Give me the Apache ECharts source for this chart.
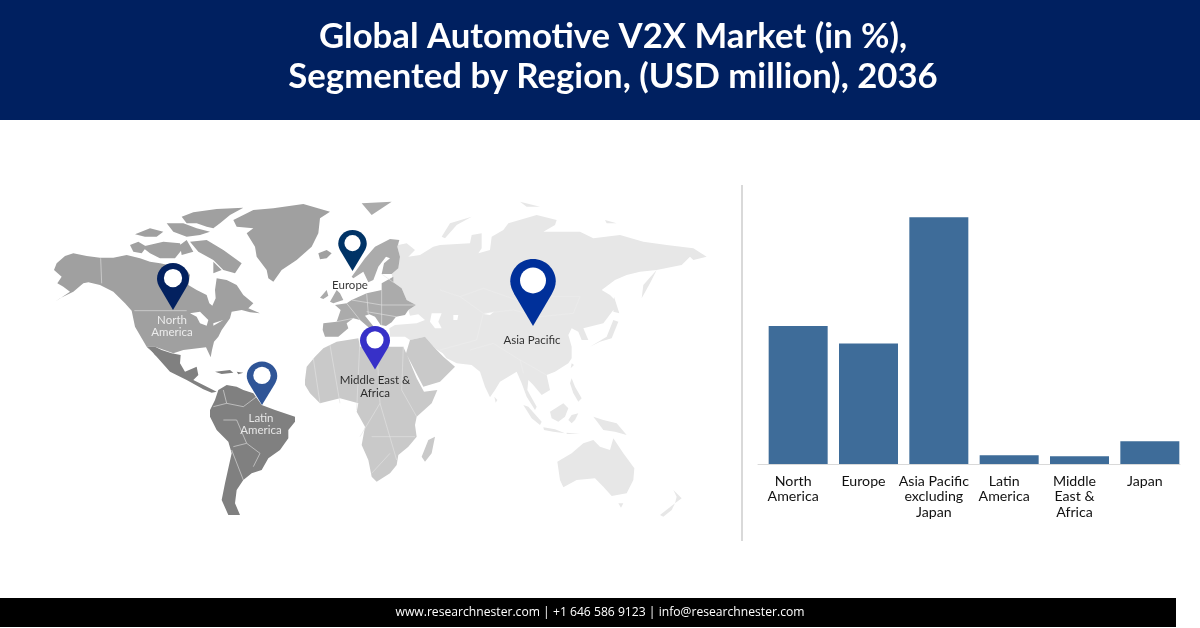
<!DOCTYPE html>
<html><head><meta charset="utf-8">
<style>html,body{margin:0;padding:0;background:#fff}#c{width:1200px;height:628px}</style>
<script src="https://cdn.jsdelivr.net/npm/echarts@6/dist/echarts.min.js"></script>
</head><body><div id="c"></div>
<script>
const categories=['North\nAmerica','Europe','Asia Pacific\nexcluding\nJapan','Latin\nAmerica','Middle\nEast &\nAfrica','Japan'];
const shareValues=[25.4,22.15,45.4,1.6,1.42,4.18];
const pinNames=['North\nAmerica','Europe','Latin\nAmerica','Middle East &\nAfrica','Asia Pacific'];
const pinTips=[[173,310],[352.5,271],[262,405],[375,369.5],[533,326]];
const pinLabelAnchors=[[172,314],[350,279.5],[261,412],[375,374.5],[532,334.5]];
// outlines; "@X" selects a crop origin, units are 1/3 px
const cropOrigins={A:[40,190],B:[300,190],C1:[50,195],C2:[310,225],C3:[440,200],C4:[440,340]};
const northAmerica=[
"@C1 12,225 20,205 45,183 70,175 110,183 150,188 190,188 230,180 270,190 300,200 330,205 380,215 410,225 420,240 415,270 440,285 470,300 478,325 487,332 497,310 495,285 500,250 530,255 560,270 580,300 610,325 595,340 630,355 600,352 575,345 545,350 540,370 515,405 505,425 492,440 486,465 482,487 468,457 400,465 370,475 315,455 290,455 255,395 245,347 225,325 190,290 150,270 115,262 100,265 70,290 30,310 15,320 60,290 40,275 22,265 35,245",
"@A 580,90 640,60 700,55 790,42 870,65 840,85 835,130 815,170 770,210 725,240 700,275 685,265 680,240 650,200 645,170 620,130 640,115 590,110",
"@C1 395,65 430,52 500,42 580,38 540,60 510,85 490,100 470,95 440,85 410,85","@C1 350,85 400,85 440,100 480,110 450,120 410,125 370,110","@C1 255,118 300,100 340,110 320,125 285,125","@C1 240,150 265,140 290,155 275,175 250,170","@C1 275,155 340,140 390,145 395,165 375,190 330,190 300,175",
"@C1 420,140 470,135 520,165 575,205 555,235 520,225 490,195 445,170","@C1 490,200 515,225 490,235","@C1 410,135 430,170 395,180 390,150","@A 835,190 860,180 875,190 860,205 840,208"];
const latinAmerica=[
"@A 320,470 345,470 365,480 395,490 422,495 420,520 435,545 470,530 475,555 460,570 490,585 530,605 515,608 490,598 440,570 390,545 350,500",
"@A 510,660 525,630 535,600 560,585 590,590 610,600 640,610 665,645 705,660 765,680 765,695 745,720 745,745 720,780 685,805 665,840 635,850 610,870 590,900 585,940 600,975 565,975 545,930 555,880 575,790 565,755 530,720 510,680",
"@A 525,545 570,540 580,548 545,552","@A 590,545 610,548 595,553"];
const europe=[
"@C2 40,295 80,290 92,255 75,240 110,235 125,225 170,205 215,195 250,172 275,190 290,225 318,240 295,255 285,270 258,275 245,292 228,303 212,300 195,275 178,268 165,272 195,310 185,315 150,285 130,280 110,295 115,310 85,335 45,335 38,315",
"@C2 125,155 165,100 195,65 240,42 268,45 262,65 270,95 265,130 245,147 215,147 222,115 240,100 228,95 205,125 190,165 175,172 160,140 130,160","@C2 60,230 80,195 90,205 100,225 70,235","@C2 30,218 50,195 55,212 40,222","@C2 215,175 250,155 250,172 215,195","@B 185,40 275,35 215,75"];
const africaMiddleEast=[
"@B 15,570 20,530 45,500 70,475 110,455 175,445 180,470 230,465 270,470 310,470 325,505 350,565 372,605 412,600 395,640 350,680 345,705 350,740 325,770 295,795 290,825 270,850 230,875 215,860 205,810 185,765 195,710 170,665 175,640 120,625 60,640 30,610 15,585",
"@B 318,490 330,450 375,440 405,475 430,500 465,530 420,575 370,590","@B 385,750 405,740 395,790 375,815 365,800"];
const asiaOceania=[
"@C3 -125,135 -100,130 -75,150 -95,170 -60,165 -20,140 0,135 90,130 95,105 125,100 125,145 115,160 150,150 155,110 190,90 205,70 290,45 350,60 345,75 310,95 420,95 460,115 540,105 610,125 680,135 760,145 800,170 760,180 750,170 725,195 650,210 600,215 560,225 525,240 485,270 510,285 525,300 520,330 490,370 430,385 445,420 425,420 415,395 395,385 385,405 395,440 395,470 @C4 395,55 385,70 345,95 320,105 330,150 305,165 280,135 265,120 262,150 290,200 285,210 260,170 245,130 230,95 180,125 165,150 150,172 135,140 120,95 95,75 50,70 20,55 8,40 @C2 375,370 345,335 300,345 285,335 240,335 238,310 255,300 320,295 345,285 325,268 300,272 295,255 318,240 290,225 275,190 250,172 245,147 265,130 270,95 262,65 268,45",
"@C3 5,110 30,70 95,50 50,75 15,115","@C3 240,5 300,20 260,20","@C3 495,60 530,70 500,70",
"@C4 250,195 265,200 305,245 300,255 275,235","@C4 310,262 345,268 375,280 340,275 312,270","@C4 380,278 420,282 380,282","@C4 330,215 370,190 385,205 375,230 355,245 335,235","@C4 395,225 415,220 405,240 395,250 385,240","@C4 395,115 405,140 425,175 415,185 400,160 390,130","@C4 460,230 490,240 530,250 560,285 525,275 490,270 475,250","@C4 395,70 402,75 392,85","@C4 163,170 172,180 167,188",
"@C4 352,365 395,340 430,310 460,300 480,320 510,330 520,295 550,340 583,385 580,420 560,460 515,468 490,440 465,415 410,420 370,442 360,420","@C4 535,490 550,490 543,503","@C4 700,450 725,475 705,490 710,470","@C4 660,525 705,490 695,510 670,530",
"@C3 450,440 500,410 520,360 535,365 515,415 480,425","@C3 522,290 538,340 520,335","@C3 605,295 610,255 650,210 630,250"];
const water=[
"@C1 420,355 450,350 475,375 470,392 450,385 440,365","@C1 490,385 520,375 490,392","@A 322,470 345,500 354,516 340,490",
"@C2 365,265 395,265 385,290 395,310 375,310 360,290","@C2 430,270 445,270 442,285 430,285","@C3 130,342 162,335 150,345"];
const bordersStrong=[
"@A 182,205 185,280","@A 283,362 440,362",
"@A 550,600 560,640 520,650","@A 560,640 610,650 650,620","@A 550,690 590,690 620,760 580,770","@A 620,760 660,790 640,830","@A 575,780 610,870",
"@C2 80,290 130,280","@C2 110,235 150,285","@C2 170,205 175,268","@C2 215,195 215,300","@C2 125,225 215,240 318,240","@C2 170,260 258,275","@C2 215,147 250,172",
"@B 40,505 60,640","@B 90,465 120,640","@B 180,445 170,660","@B 230,470 240,640 180,740","@B 310,470 305,600 350,680","@B 240,640 290,810","@B 215,740 345,740","@B 215,850 270,790"];
const bordersFaint=["@C3 60,290 130,265 230,300 330,290 420,290 400,340 300,350 220,330 130,340","@C3 0,270 60,290 130,340 110,420 0,450","@C4 90,30 160,10 240,60 250,100","@C4 240,60 320,105"];

const parsePoints=s=>{let o=[0,0];const out=[];s.split(' ').forEach(t=>{if(t[0]==='@'){o=cropOrigins[t.slice(1)];return;}const [x,y]=t.split(',').map(Number);out.push([o[0]+x/3,o[1]+y/3]);});return out;};
const ring=s=>{const r=parsePoints(s);r.push(r[0]);return r;};
const feature=(name,rings)=>({type:'Feature',properties:{name},geometry:{type:'MultiPolygon',coordinates:rings.map(s=>[ring(s)])}});
const regionColors={NorthAmerica:'#a0a0a0',LatinAmerica:'#808080',Europe:'#ababab',AfricaMiddleEast:'#c9c9c9',AsiaOceania:'#e7e7e7',Water:'#ffffff'};
const world={type:'FeatureCollection',features:[
 feature('AsiaOceania',asiaOceania),feature('NorthAmerica',northAmerica),feature('LatinAmerica',latinAmerica),
 feature('Europe',europe),feature('AfricaMiddleEast',africaMiddleEast),feature('Water',water)]};
echarts.registerMap('world',world);
const pinPath='path://M50 0C22.4 0 0 22.4 0 50C0 60 4 70 9 79L50 150L91 79C96 70 100 60 100 50C100 22.4 77.6 0 50 0Z';
const pinSizes=[[32,47],[28.5,41],[30.5,43.5],[30,43.5],[45.5,67]];
const pinColors=['#03215f','#003366','#2f5597','#3730c8','#00309a'];
const labelColors=['#fff','#000','#fff','#000','#000'];
const font='Lato';
const chart=echarts.init(document.getElementById('c'),null,{renderer:'canvas'});
chart.setOption({
 animation:false,backgroundColor:'#fff',
 title:{text:'Global Automotive V2X Market (in %),\nSegmented by Region, (USD million), 2036',left:608,top:12,textAlign:'center',
   textStyle:{color:'#fff',fontFamily:font,fontWeight:'bold',fontSize:34.7,lineHeight:40}},
 graphic:[
  {type:'rect',z:-1,shape:{x:0,y:0,width:1200,height:120},style:{fill:'#002060'}},
  {type:'rect',shape:{x:741,y:185,width:2,height:356},style:{fill:'#d9d9d9'}},
  {type:'rect',shape:{x:0,y:598,width:1176,height:29},style:{fill:'#000'}},
  {type:'text',x:600,y:613,style:{text:'www.researchnester.com | +1 646 586 9123 | info@researchnester.com',fill:'#fff',font:'12.15px "Open Sans"',textAlign:'center',textVerticalAlign:'middle'}}
 ],
 geo:{map:'world',silent:true,roam:false,left:0,top:0,width:1200,height:628,aspectScale:1,
   projection:{project:p=>p,unproject:p=>p},boundingCoords:[[0,0],[1200,628]],
   label:{show:false},itemStyle:{borderWidth:0,areaColor:'#e7e7e7'},
   regions:Object.keys(regionColors).map(n=>({name:n,itemStyle:{areaColor:regionColors[n]}}))},
 grid:[{left:763,top:214,width:422,height:250},{left:758,top:214,width:422,height:250}],
 xAxis:[
  {gridIndex:0,type:'category',data:categories,show:false},
  {gridIndex:1,type:'category',data:categories,axisTick:{show:false},axisLine:{lineStyle:{color:'#d9d9d9',width:1}},
   axisLabel:{color:'#111',fontFamily:font,fontSize:14.2,lineHeight:15.2,margin:10,interval:0}}],
 yAxis:[{gridIndex:0,type:'value',min:0,max:46,show:false},{gridIndex:1,type:'value',min:0,max:46,show:false}],
 series:[
  {type:'bar',xAxisIndex:0,yAxisIndex:0,data:shareValues,barWidth:59,itemStyle:{color:'#3e6c99'},silent:true},
  {type:'lines',coordinateSystem:'geo',polyline:true,silent:true,lineStyle:{color:'#e4e4e4',width:0.6,opacity:1},
   data:bordersStrong.map(s=>({coords:parsePoints(s)})).concat(bordersFaint.map(s=>({coords:parsePoints(s),lineStyle:{color:'#eeeeee',width:0.5}})))},
  {type:'scatter',coordinateSystem:'geo',silent:true,z:5,
   data:pinTips.map((t,i)=>({name:pinNames[i],value:t,symbol:pinPath,symbolSize:pinSizes[i],symbolOffset:[0,'-50%'],itemStyle:{color:pinColors[i],opacity:1}}))},
  {type:'scatter',coordinateSystem:'geo',silent:true,z:6,
   data:pinTips.map((t,i)=>({value:[t[0],t[1]-pinSizes[i][1]*0.68],symbol:'circle',symbolSize:pinSizes[i][0]*0.57,itemStyle:{color:'#fff',opacity:1}}))},
  {type:'scatter',coordinateSystem:'geo',silent:true,z:7,symbolSize:0,
   data:pinLabelAnchors.map((t,i)=>({name:pinNames[i],value:t,label:{show:true,position:'bottom',distance:0,formatter:pinNames[i],color:labelColors[i],fontFamily:font,fontSize:11.5,lineHeight:12.5,align:'center'}}))}
 ]
});
</script></body></html>
